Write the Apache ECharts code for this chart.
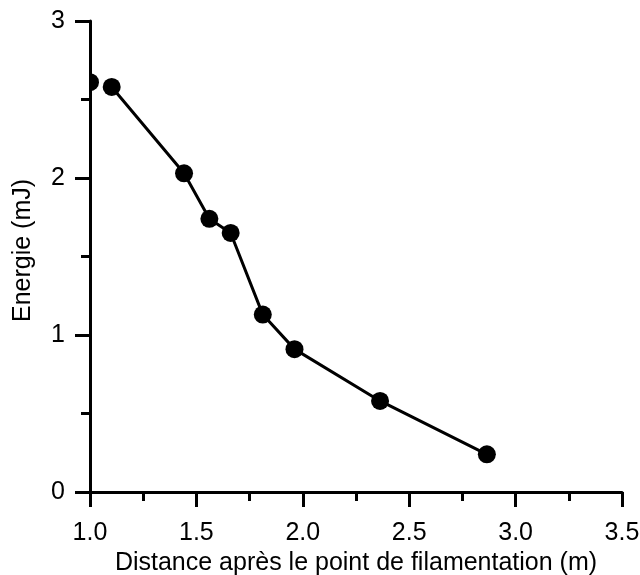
<!DOCTYPE html>
<html>
<head>
<meta charset="utf-8">
<script src="https://cdn.jsdelivr.net/npm/echarts@6/dist/echarts.min.js"></script>
<style>
html,body{margin:0;padding:0;background:#fff;}
#chart{width:640px;height:575px;}
</style>
</head>
<body>
<div id="chart"></div>
<script>
// Data
const distance = [1.0, 1.102, 1.442, 1.561, 1.661, 1.812, 1.961, 2.363, 2.865];
const energy   = [2.61, 2.58, 2.03, 1.74, 1.65, 1.13, 0.91, 0.58, 0.24];
const lineFromIndex = 1; // the first point is not joined by the line
const xTitle = 'Distance après le point de filamentation (m)';
const yTitle = 'Energie (mJ)';

const pts = distance.map((x, i) => [x, energy[i]]);
const linePts = pts.slice(lineFromIndex);

const chart = echarts.init(document.getElementById('chart'), null, {renderer: 'canvas'});
const font = '"Liberation Sans", Arial, Helvetica, sans-serif';
const axisCommon = {
  axisLine: {show: true, onZero: false, lineStyle: {color: '#000', width: 3}},
  axisTick: {show: true, inside: false, length: 15, lineStyle: {color: '#000', width: 3}},
  minorTick: {show: true, splitNumber: 2, length: 9, lineStyle: {color: '#000', width: 3}},
  splitLine: {show: false},
  minorSplitLine: {show: false}
};
chart.setOption({
  animation: false,
  backgroundColor: '#fff',
  grid: {left: 90, right: 18, top: 21, bottom: 83, containLabel: false, outerBoundsMode: 'none'},
  xAxis: Object.assign({
    type: 'value', min: 1, max: 3.5, interval: 0.5,
    name: xTitle, nameLocation: 'middle', nameGap: 56,
    nameTextStyle: {fontFamily: font, fontSize: 25, color: '#000'},
    axisLabel: {margin: 29, fontFamily: font, fontSize: 25, color: '#000',
      formatter: v => v.toFixed(1)}
  }, axisCommon),
  yAxis: Object.assign({
    type: 'value', min: 0, max: 3, interval: 1,
    name: yTitle, nameLocation: 'middle', nameGap: 54,
    nameTextStyle: {fontFamily: font, fontSize: 25, color: '#000', padding: [0, 0, 0, 12]},
    axisLabel: {margin: 25, fontFamily: font, fontSize: 25, color: '#000'}
  }, axisCommon),
  series: [
    {
      type: 'line', data: linePts, showSymbol: false, symbol: 'none',
      lineStyle: {color: '#000', width: 3}, z: 2
    },
    {
      type: 'custom', clip: true, data: pts, z: 3,
      renderItem: function (params, api) {
        const c = api.coord([api.value(0), api.value(1)]);
        return {type: 'circle', shape: {cx: c[0], cy: c[1], r: 9}, style: {fill: '#000'}};
      }
    }
  ]
});
</script>
</body>
</html>
